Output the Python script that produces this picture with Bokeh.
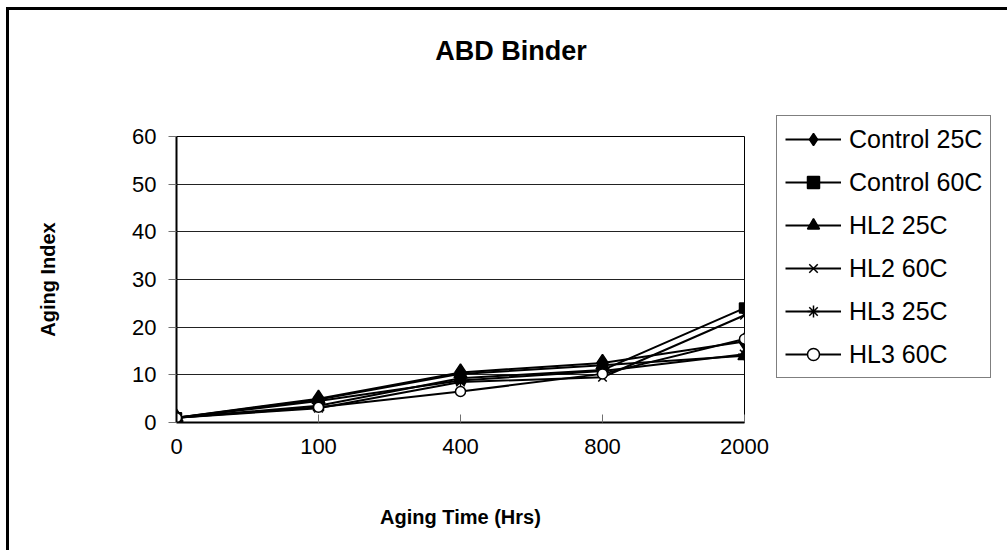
from bokeh.plotting import figure
from bokeh.layouts import column
from bokeh.models import Range1d, FixedTicker, Legend, LegendItem, Div
from bokeh.embed import file_html
from bokeh.resources import INLINE

# ---- data ----
categories = ["0", "100", "400", "800", "2000"]
control_25c = [1.0, 5.0, 10.5, 12.5, 17.0]
control_60c = [1.0, 3.5, 9.3, 11.0, 24.0]
hl2_25c = [1.0, 4.8, 10.2, 12.0, 14.0]
hl2_60c = [1.0, 3.0, 8.5, 9.5, 22.5]
hl3_25c = [1.0, 4.5, 8.8, 10.8, 14.3]
hl3_60c = [1.0, 3.2, 6.5, 10.2, 17.5]
series_names = ["Control 25C", "Control 60C", "HL2 25C", "HL2 60C", "HL3 25C", "HL3 60C"]
y_ticks = [0, 10, 20, 30, 40, 50, 60]
title_text = "ABD Binder"
x_title = "Aging Time (Hrs)"
y_title = "Aging Index"

series_values = [control_25c, control_60c, hl2_25c, hl2_60c, hl3_25c, hl3_60c]
styles = [
    dict(marker="diamond", size=17, fill_color="black"),
    dict(marker="square", size=10, fill_color="black"),
    dict(marker="triangle", size=13, fill_color="black"),
    dict(marker="x", size=12, fill_color="black"),
    dict(marker="asterisk", size=13, fill_color="black"),
    dict(marker="circle", size=10, fill_color="white"),
]

xs = list(range(len(categories)))
FONT = "Liberation Sans"
LEFT, FRAME_W, RIGHT = 167, 568, 247
TOP, FRAME_H, BOTTOM = 44, 286, 128
TITLE_H = 82

# ---------------- main chart ----------------
p = figure(frame_width=FRAME_W, frame_height=FRAME_H, output_backend="svg",
           toolbar_location=None,
           x_range=Range1d(xs[0], xs[-1]), y_range=Range1d(y_ticks[0], y_ticks[-1]),
           min_border_left=LEFT, min_border_right=RIGHT, min_border_top=TOP,
           min_border_bottom=BOTTOM)
p.background_fill_color = "white"
p.border_fill_color = "white"
p.outline_line_color = "black"
p.outline_line_width = 1

p.xaxis.ticker = FixedTicker(ticks=xs)
p.xaxis.major_label_overrides = {i: c for i, c in zip(xs, categories)}
p.yaxis.ticker = FixedTicker(ticks=y_ticks)
for ax in (p.xaxis[0], p.yaxis[0]):
    ax.axis_line_width = 2
    ax.axis_line_color = "black"
    ax.minor_tick_line_color = None
    ax.major_tick_line_color = "#707070"
    ax.major_tick_line_width = 1
    ax.major_label_text_font = FONT
    ax.major_label_text_font_size = "22px"
    ax.major_label_text_color = "black"
    ax.axis_label_text_font = FONT
    ax.axis_label_text_font_style = "bold"
    ax.axis_label_text_font_size = "20px"
    ax.axis_label_text_color = "black"
p.xaxis.major_tick_in = 8
p.xaxis.major_tick_out = 0
p.xaxis.major_label_standoff = 16
p.xaxis.axis_label = x_title
p.xaxis.axis_label_standoff = 49
p.yaxis.major_tick_in = 0
p.yaxis.major_tick_out = 8
p.yaxis.major_label_standoff = 12
p.yaxis.axis_label = y_title
p.yaxis.axis_label_standoff = 70

p.xgrid.visible = False
p.ygrid.ticker = FixedTicker(ticks=y_ticks[1:-1])
p.ygrid.grid_line_color = "#222222"
p.ygrid.grid_line_width = 1

items = []
for name, vals, st in zip(series_names, series_values, styles):
    lr = p.line(xs, vals, line_color="black", line_width=2)
    sr = p.scatter(xs, vals, marker=st["marker"], size=st["size"],
                   fill_color=st["fill_color"], line_color="black", line_width=1.5)
    items.append(LegendItem(label=name, renderers=[lr, sr]))

legend = Legend(items=items, location=(32, 44))
legend.label_text_font = FONT
legend.label_text_font_size = "25px"
legend.label_text_color = "black"
legend.label_height = 30
legend.glyph_height = 30
legend.glyph_width = 56
legend.spacing = 13
legend.padding = 8
legend.margin = 0
legend.label_standoff = 8
legend.border_line_color = "black"
legend.border_line_width = 1.5
legend.background_fill_color = "white"
legend.background_fill_alpha = 1.0
p.add_layout(legend, "right")

total_w = LEFT + FRAME_W + RIGHT
title_div = Div(
    text=(f'<div style="width:{total_w}px;box-sizing:border-box;padding-left:22px;'
          f'text-align:center;font-family:\'{FONT}\';font-weight:bold;font-size:27px;'
          f'line-height:{TITLE_H}px;color:black;">{title_text}</div>'),
    width=total_w, height=TITLE_H, margin=0)

layout = column(title_div, p, spacing=0)
layout.styles = {"border-left": "3px solid black", "border-top": "3px solid black",
                 "margin-left": "6px", "margin-top": "7px", "background": "white"}

open("out.html", "w").write(file_html(layout, INLINE))
